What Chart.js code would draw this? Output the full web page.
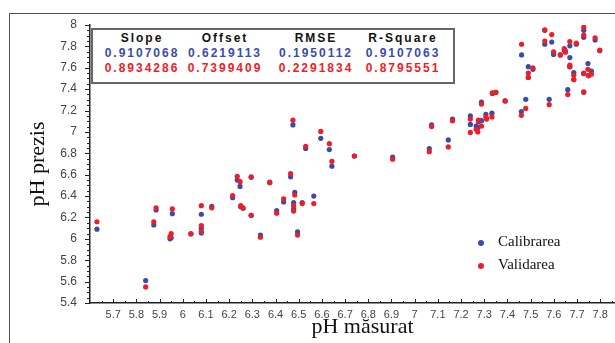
<!DOCTYPE html>
<html>
<head>
<meta charset="utf-8">
<script src="https://cdn.jsdelivr.net/npm/chart.js@4/dist/chart.umd.min.js"></script>
<style>
  html, body { margin: 0; padding: 0; background: #fff; overflow: hidden; width: 615px; height: 343px; }
  #frame { position: absolute; left: 9px; top: 13px; width: 800px; height: 800px; border: 1.5px solid #555; box-sizing: border-box; }
  #chart { position: absolute; left: 0; top: 0; }
  #stats { position: absolute; left: 91px; top: 28px; width: 364px; height: 56px; border: 2px solid #666; box-sizing: border-box; background: #fff; }
  .cell { position: absolute; transform: translate(-50%, -50%); white-space: nowrap;
          font: bold 12px "Liberation Sans", Arial, sans-serif; letter-spacing: 2px; }
  .legend { position: absolute; left: 478px; font: 15px "Liberation Serif", "Times New Roman", serif; color: #111; }
  .legend span.dot { position: absolute; left: 0; width: 6px; height: 6px; border-radius: 50%; }
  .legend span.lbl { position: absolute; left: 20px; white-space: nowrap; }
</style>
</head>
<body>
<div id="frame"></div>
<canvas id="chart" width="660" height="343"></canvas>
<div id="stats"></div>
<div id="legend"></div>
<script>
// ------------------ Data ------------------

// pH măsurat (measured) for each sample
const measured = [
  5.63, 5.84, 5.875, 5.885, 5.945, 5.95, 5.955, 6.035, 6.08, 6.08,
  6.08, 6.125, 6.215, 6.235, 6.247, 6.25, 6.26, 6.295, 6.295, 6.335,
  6.375, 6.405, 6.435, 6.465, 6.475, 6.478, 6.478, 6.483, 6.495, 6.515,
  6.53, 6.565, 6.595, 6.632, 6.643, 6.74, 6.905, 7.063, 7.073, 7.145,
  7.163, 7.24, 7.24, 7.265, 7.272, 7.275, 7.288, 7.288, 7.307, 7.31,
  7.333, 7.335, 7.35, 7.39, 7.46, 7.461, 7.479, 7.49, 7.49, 7.51,
  7.561, 7.561, 7.58, 7.591, 7.599, 7.628, 7.645, 7.65, 7.66, 7.669,
  7.669, 7.669, 7.686, 7.686, 7.697, 7.729, 7.729, 7.729, 7.729, 7.747,
  7.75, 7.762, 7.778, 7.798
];

// pH prezis, calibration model (blue)
const calibrated = [
  6.09, 5.61, 6.13, 6.27, 6.00, 6.01, 6.235, 6.045, 6.23, 6.10,
  6.055, 6.305, 6.385, 6.55, 6.49, 6.30, 6.285, 6.575, 6.22, 6.035,
  6.53, 6.265, 6.345, 6.58, 7.065, 6.34, 6.28, 6.435, 6.065, 6.34,
  6.845, 6.40, 6.94, 6.835, 6.68, 6.775, 6.765, 6.845, 7.065, 6.925,
  7.12, 7.15, 7.07, 7.055, 7.04, 7.095, 7.105, 7.28, 7.165, 7.125,
  7.175, 7.36, 7.37, 7.29, 7.19, 7.72, 7.305, 7.61, 7.51, 7.585,
  7.82, 7.95, 7.305, 7.84, 7.725, 7.72, 7.765, 7.755, 7.395, 7.805,
  7.695, 7.61, 7.555, 7.49, 7.82, 7.95, 7.885, 7.37, 7.545, 7.64,
  7.53, 7.57, 7.86, 7.76
];

// pH prezis, validation model (red)
const validated = [
  6.16, 5.55, 6.16, 6.29, 6.02, 6.05, 6.28, 6.05, 6.31, 6.125,
  6.07, 6.29, 6.405, 6.585, 6.535, 6.31, 6.29, 6.58, 6.22, 6.015,
  6.525, 6.24, 6.375, 6.61, 7.11, 6.31, 6.26, 6.41, 6.035, 6.33,
  6.865, 6.33, 7.005, 6.89, 6.725, 6.775, 6.745, 6.815, 7.05, 6.86,
  7.105, 7.12, 6.995, 7.025, 7.00, 7.11, 7.055, 7.26, 7.14, 7.12,
  7.14, 7.365, 7.37, 7.29, 7.155, 7.82, 7.22, 7.55, 7.51, 7.60,
  7.85, 7.955, 7.255, 7.91, 7.75, 7.72, 7.78, 7.745, 7.35, 7.845,
  7.625, 7.61, 7.53, 7.49, 7.83, 7.98, 7.905, 7.375, 7.55, 7.585,
  7.525, 7.54, 7.88, 7.765
];

const xTickValues = [5.7, 5.8, 5.9, 6, 6.1, 6.2, 6.3, 6.4, 6.5, 6.6, 6.7, 6.8,
                     6.9, 7, 7.1, 7.2, 7.3, 7.4, 7.5, 7.6, 7.7, 7.8, 7.9];
const yTickValues = [5.4, 5.6, 5.8, 6, 6.2, 6.4, 6.6, 6.8, 7, 7.2, 7.4, 7.6, 7.8, 8];

const statNames = ["Slope", "Offset", "RMSE", "R-Square"];
const calStats = ["0.9107068", "0.6219113", "0.1950112", "0.9107063"];
const valStats = ["0.8934286", "0.7399409", "0.2291834", "0.8795551"];

const seriesNames = ["Calibrarea", "Validarea"];

const BLUE = "#3b4ca6";
const RED = "#ee1d26";

// ------------------ Stats box + legend ------------------

const statCols = [48, 131, 222, 309];   // centres, relative to the box
const statRows = [[statNames, "#111"], [calStats, BLUE], [valStats, RED]];
const statsBox = document.getElementById("stats");
statRows.forEach(([row, color], r) => {
  row.forEach((txt, c) => {
    const el = document.createElement("div");
    el.className = "cell";
    el.textContent = txt;
    el.style.left = (statCols[c] + 1) + "px";
    el.style.top = (8 + r * 15) + "px";
    el.style.color = color;
    statsBox.appendChild(el);
  });
});

const legendBox = document.getElementById("legend");
[BLUE, RED].forEach((color, i) => {
  const item = document.createElement("div");
  item.className = "legend";
  item.style.top = (233 + i * 23) + "px";
  item.innerHTML = `<span class="dot" style="top:7px;background:${color}"></span><span class="lbl">${seriesNames[i]}</span>`;
  legendBox.appendChild(item);
});

// ------------------ Chart ------------------

// short tick marks on the axes (major at labels, minor in between)
const tickMarks = {
  id: "tickMarks",
  afterDraw(chart) {
    const { ctx, chartArea, scales } = chart;
    const x = scales.x, y = scales.y;
    ctx.save();
    ctx.strokeStyle = "#222";
    ctx.lineWidth = 1;
    ctx.beginPath();
    xTickValues.forEach(v => {
      const px = Math.round(x.getPixelForValue(v)) + 0.5;
      ctx.moveTo(px, chartArea.bottom);
      ctx.lineTo(px, chartArea.bottom - 4);
      const half = Math.round(x.getPixelForValue(v - 0.05)) + 0.5;
      ctx.moveTo(half, chartArea.bottom);
      ctx.lineTo(half, chartArea.bottom - 2);
    });
    yTickValues.forEach((v, i) => {
      const py = Math.round(y.getPixelForValue(v)) + 0.5;
      ctx.moveTo(chartArea.left, py);
      ctx.lineTo(chartArea.left - 5, py);
      if (i > 0) {
        [0.05, 0.1, 0.15].forEach(d => {
          const q = Math.round(y.getPixelForValue(v - d)) + 0.5;
          ctx.moveTo(chartArea.left, q);
          ctx.lineTo(chartArea.left - 3, q);
        });
      }
    });
    ctx.stroke();
    ctx.restore();
  }
};

function points(ys) {
  return measured.map((m, i) => ({ x: m, y: ys[i] }));
}

const tickFont = { family: "'Liberation Sans', Arial, sans-serif", size: 11 };
const titleFont = { family: "'Liberation Serif', 'Times New Roman', serif", size: 22 };

new Chart(document.getElementById("chart"), {
  type: "scatter",
  data: {
    datasets: [
      { label: seriesNames[0], data: points(calibrated), backgroundColor: BLUE, borderWidth: 0, pointRadius: 2.6, order: 1 },
      { label: seriesNames[1], data: points(validated), backgroundColor: RED, borderWidth: 0, pointRadius: 2.6, order: 0 }
    ]
  },
  options: {
    responsive: false,
    animation: false,
    layout: { padding: { top: 25, right: 25, bottom: 0, left: 0 } },
    plugins: { legend: { display: false }, tooltip: { enabled: false } },
    scales: {
      x: {
        type: "linear",
        min: 5.6,
        max: 7.95,
        grid: { display: false, drawTicks: false, tickLength: 0 },
        border: { color: "#222", width: 1.5 },
        afterBuildTicks: s => { s.ticks = xTickValues.map(v => ({ value: v })); },
        afterFit: s => { s.height = 40; },
        ticks: { font: tickFont, color: "#444", padding: 5, maxRotation: 0, autoSkip: false, callback: v => String(v) },
        title: { display: true, text: "pH măsurat", font: titleFont, color: "#111", padding: { top: 0, bottom: 3 } }
      },
      y: {
        type: "linear",
        min: 5.4,
        max: 8,
        grid: { display: false, drawTicks: false, tickLength: 0 },
        border: { color: "#222", width: 1.5 },
        afterBuildTicks: s => { s.ticks = yTickValues.map(v => ({ value: v })); },
        afterFit: s => { s.width = 90; },
        ticks: { font: { ...tickFont, size: 12 }, color: "#444", padding: 13, autoSkip: false, callback: v => String(v) },
        title: { display: true, text: "pH prezis", font: titleFont, color: "#111", padding: { top: 25, bottom: 0 } }
      }
    }
  },
  plugins: [tickMarks]
});
</script>
</body>
</html>
